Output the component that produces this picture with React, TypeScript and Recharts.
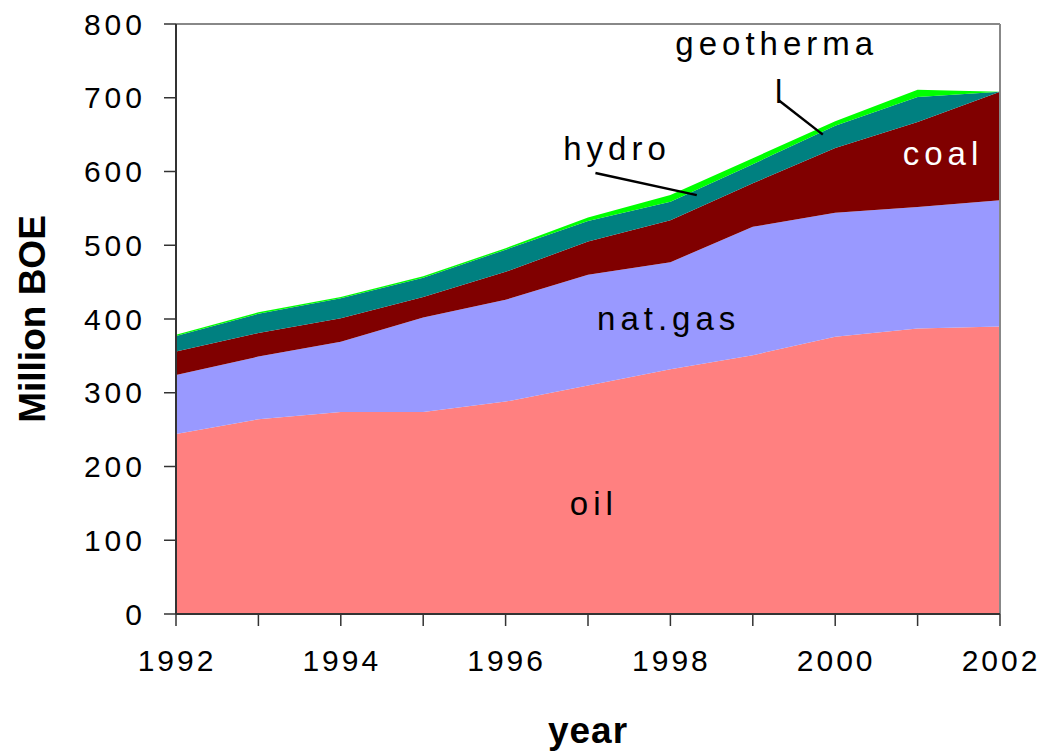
import { Area, AreaChart, ReferenceDot, ReferenceLine, XAxis, YAxis } from "recharts";

const years = [1992, 1993, 1994, 1995, 1996, 1997, 1998, 1999, 2000, 2001, 2002];
const oil = [244, 264, 274, 274, 288, 310, 332, 351, 376, 387, 390];
const natGas = [80, 85, 95, 128, 138, 150, 145, 174, 168, 165, 171];
const coal = [32, 32, 32, 28, 38, 45, 57, 59, 88, 115, 147];
const hydro = [21, 26, 27, 26, 30, 28, 25, 26, 30, 34, 0];
const geothermal = [1.5, 2, 2, 2, 2, 4.5, 9, 8, 6, 10, 0];
const yTicks = [0, 100, 200, 300, 400, 500, 600, 700, 800];

const FONT = "'Liberation Sans', Arial, sans-serif";

const data = years.map((year, i) => ({
  year,
  oil: oil[i],
  natGas: natGas[i],
  coal: coal[i],
  hydro: hydro[i],
  geothermal: geothermal[i],
}));

function YTick({ x, y, payload }: any) {
  return (
    <text x={x} y={y} dy="0.355em" textAnchor="end" fontFamily={FONT} fontSize={30} letterSpacing={4} fill="#000">
      {payload.value}
    </text>
  );
}

function XTick({ x, y, payload }: any) {
  if (payload.value % 2 !== 0) return <g />;
  return (
    <text x={x + 1} y={y} dy="0.71em" textAnchor="middle" fontFamily={FONT} fontSize={30} letterSpacing={3} fill="#000">
      {payload.value}
    </text>
  );
}

function note(text: string, fill = "#000") {
  return (p: any) => (
    <text x={p.cx} y={p.cy} fontFamily={FONT} fontSize={33} letterSpacing={5} fill={fill}>
      {text}
    </text>
  );
}

export default function App() {
  return (
    <div style={{ position: "absolute", left: 0, top: 0, width: 1041, height: 751, background: "#fff", fontFamily: FONT }}>
      <AreaChart width={1041} height={751} data={data} margin={{ top: 24, right: 41, bottom: 57, left: 56 }}>
        <XAxis
          dataKey="year"
          type="number"
          domain={[1992, 2002]}
          ticks={years}
          height={80}
          tickSize={12}
          tickMargin={24}
          tick={<XTick />}
          axisLine={{ stroke: "#333", strokeWidth: 2 }}
          tickLine={{ stroke: "#333", strokeWidth: 1.5 }}
          label={{
            content: ({ viewBox }: any) => (
              <text
                x={viewBox.x + viewBox.width / 2}
                y={viewBox.y + 129}
                textAnchor="middle"
                fontFamily={FONT}
                fontSize={37}
                fontWeight="bold"
                letterSpacing={1}
                fill="#000"
              >
                year
              </text>
            ),
          }}
        />
        <YAxis
          domain={[0, 800]}
          ticks={yTicks}
          width={120}
          tickSize={12}
          tickMargin={18}
          tick={<YTick />}
          axisLine={{ stroke: "#333", strokeWidth: 2 }}
          tickLine={{ stroke: "#333", strokeWidth: 1.5 }}
          label={{
            content: ({ viewBox }: any) => {
              const cx = viewBox.x - 11;
              const cy = viewBox.y + viewBox.height / 2;
              return (
                <text
                  x={cx}
                  y={cy}
                  transform={`rotate(-90 ${cx} ${cy})`}
                  textAnchor="middle"
                  fontFamily={FONT}
                  fontSize={37}
                  fontWeight="bold"
                  fill="#000"
                >
                  Million BOE
                </text>
              );
            },
          }}
        />
        <Area type="linear" dataKey="oil" stackId="1" fill="#FF8080" fillOpacity={1} stroke="none" isAnimationActive={false} />
        <Area type="linear" dataKey="natGas" stackId="1" fill="#9999FF" fillOpacity={1} stroke="none" isAnimationActive={false} />
        <Area type="linear" dataKey="coal" stackId="1" fill="#800000" fillOpacity={1} stroke="none" isAnimationActive={false} />
        <Area type="linear" dataKey="hydro" stackId="1" fill="#008080" fillOpacity={1} stroke="none" isAnimationActive={false} />
        <Area type="linear" dataKey="geothermal" stackId="1" fill="#00FF00" fillOpacity={1} stroke="none" isAnimationActive={false} />
        <ReferenceLine y={800} stroke="#888" strokeWidth={2} />
        <ReferenceLine x={2002} stroke="#888" strokeWidth={2} />
        <ReferenceLine segment={[{ x: 1997.09, y: 598 }, { x: 1998.32, y: 568 }]} stroke="#000" strokeWidth={2.5} />
        <ReferenceLine segment={[{ x: 1999.31, y: 697 }, { x: 1999.85, y: 650 }]} stroke="#000" strokeWidth={2.5} />
        <ReferenceDot x={1998.06} y={758} r={0} shape={note("geotherma")} />
        <ReferenceDot x={1999.27} y={693} r={0} shape={note("l")} />
        <ReferenceDot x={1996.7} y={616} r={0} shape={note("hydro")} />
        <ReferenceDot x={2000.82} y={609} r={0} shape={note("coal", "#fff")} />
        <ReferenceDot x={1997.11} y={385} r={0} shape={note("nat.gas")} />
        <ReferenceDot x={1996.78} y={134} r={0} shape={note("oil")} />
      </AreaChart>
    </div>
  );
}
